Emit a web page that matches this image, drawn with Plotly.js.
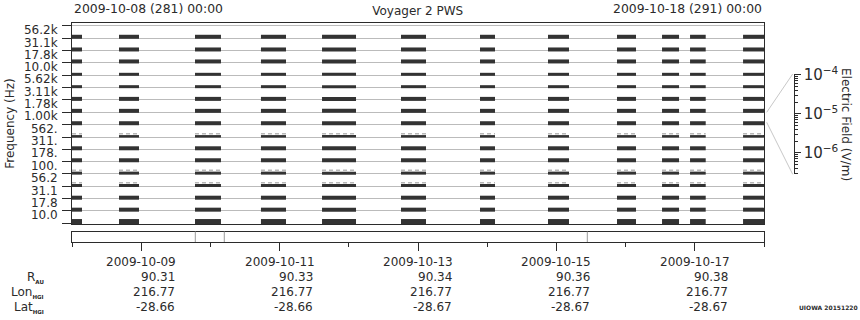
<!DOCTYPE html>
<html>
<head>
<meta charset="utf-8">
<script src="https://cdn.plot.ly/plotly-3.0.1.min.js"></script>
<style>
  html, body { margin: 0; padding: 0; background: #fff; }
  #chart { width: 860px; height: 320px; }
</style>
</head>
<body>
<div id="chart"></div>
<script>
// ---- data ----
const channelLabels = ['56.2k','31.1k','17.8k','10.0k','5.62k','3.11k','1.78k','1.00k','562.','311.','178.','100.','56.2','31.1','17.8','10.0'];
const channelFreqs  = [56200, 31100, 17800, 10000, 5620, 3110, 1780, 1000, 562, 311, 178, 100, 56.2, 31.1, 17.8, 10.0];

// intervals with data (every channel present)
const segStart = ['2009-10-08 00:00','2009-10-08 16:18','2009-10-09 18:39','2009-10-10 17:32','2009-10-11 14:43','2009-10-12 18:06',
                  '2009-10-13 21:30','2009-10-14 21:05','2009-10-15 21:01','2009-10-16 12:38','2009-10-16 22:21','2009-10-17 16:44'];
const segEnd   = ['2009-10-08 03:28','2009-10-08 23:14','2009-10-10 03:40','2009-10-11 02:13','2009-10-12 02:30','2009-10-13 02:47',
                  '2009-10-14 02:42','2009-10-15 04:22','2009-10-16 03:36','2009-10-16 18:32','2009-10-17 03:47','2009-10-18 00:00'];

// channels showing faint (weak) signal above the bars
const faintChannels = ['562.','100.','56.2'];

// marks in the lower strip
const stripMarks = ['2009-10-09 18:46','2009-10-10 04:49','2009-10-15 10:43'];

// ephemeris rows under the axis
const tickDates = ['2009-10-09','2009-10-11','2009-10-13','2009-10-15','2009-10-17'];
const rAU    = ['90.31','90.33','90.34','90.36','90.38'];
const lonHGI = ['216.77','216.77','216.77','216.77','216.77'];
const latHGI = ['-28.66','-28.66','-28.67','-28.67','-28.67'];
const rowNames = ['R', 'Lon', 'Lat'];
const rowSubs  = ['AU', 'HGI', 'HGI'];

const timeRange = ['2009-10-08 00:00','2009-10-18 00:00'];
const startLabel = '2009-10-08 (281) 00:00';
const endLabel   = '2009-10-18 (291) 00:00';

// ---- styling / geometry ----
const FONT = 'DejaVu Sans, Verdana, sans-serif';
const INK = '#2b2b2b';
const BAR = '#333333';
const PX_PER_DECADE = 49.34;
const binDecades = 0.25;
const W = 778;                       // paper width in px (860 - l - r)
const H = 219;                       // paper height in px
const px2x = px => (px - 72) / W;
const px2y = py => (242 - py) / H;

const barWidthFor = i => (i === 8 ? 2.5 : (i === 3 || i === 4 || i === 11 || i === 12) ? 3 : i === 15 ? 5 : 4);

const traces = [];
channelFreqs.forEach((f, i) => {
  const w = barWidthFor(i);
  const lift = (w / 2 - 0.7) / PX_PER_DECADE;
  const y = f * Math.pow(10, -binDecades + lift);
  const xs = [], ys = [];
  segStart.forEach((s, k) => { xs.push(s, segEnd[k], null); ys.push(y, y, null); });
  traces.push({
    type: 'scatter', mode: 'lines', x: xs, y: ys, xaxis: 'x', yaxis: 'y',
    line: { color: BAR, width: w }, hoverinfo: 'skip', showlegend: false, name: channelLabels[i]
  });
  if (faintChannels.includes(channelLabels[i])) {
    const yf = f * Math.pow(10, -binDecades + (w + 0.6) / PX_PER_DECADE);
    traces.push({
      type: 'scatter', mode: 'lines', x: xs, y: xs.map(v => v === null ? null : yf), xaxis: 'x', yaxis: 'y',
      line: { color: '#b8b8b8', width: 1.5, dash: '4px,3px' }, hoverinfo: 'skip', showlegend: false
    });
  }
});
// invisible anchor for the field-strength scale axis
traces.push({ type: 'scatter', mode: 'markers', x: [0], y: [1e-5], xaxis: 'x3', yaxis: 'y3',
  marker: { opacity: 0 }, hoverinfo: 'skip', showlegend: false });

const tickVals = channelFreqs.concat([channelFreqs[channelFreqs.length-1] / Math.pow(10, binDecades)]);
const tickText = channelLabels.concat(['']);

const topLog = Math.log10(channelFreqs[0]) + 0.055;
const botLog = topLog - 4.068;

const rowY = [261.7, 277.3, 292.3, 307].map(px2y);
const annotations = [];
tickDates.forEach((d, k) => {
  annotations.push({ xref: 'x2', yref: 'paper', x: d, y: rowY[0], xanchor: 'center', yanchor: 'middle',
    showarrow: false, text: d, font: { family: FONT, size: 12, color: INK } });
  [rAU[k], lonHGI[k], latHGI[k]].forEach((v, r) => {
    annotations.push({ xref: 'x2', yref: 'paper', x: d, xshift: 35.5, y: rowY[r + 1], xanchor: 'right', yanchor: 'middle',
      showarrow: false, text: v, font: { family: FONT, size: 12, color: INK } });
  });
});
rowNames.forEach((n, r) => {
  annotations.push({ xref: 'paper', yref: 'paper', x: px2x(45), y: rowY[r + 1], xanchor: 'right', yanchor: 'middle',
    showarrow: false, borderpad: 0,
    text: n + '<sub><span style="font-size:5.5px;font-weight:bold">' + rowSubs[r] + '</span></sub>',
    font: { family: FONT, size: 12, color: INK } });
});
annotations.push({ xref: 'paper', yref: 'paper', x: 0, y: px2y(8.3), xanchor: 'left', yanchor: 'middle',
  showarrow: false, text: startLabel, font: { family: FONT, size: 12.4, color: INK } });
annotations.push({ xref: 'paper', yref: 'paper', x: px2x(764), y: px2y(8.3), xanchor: 'right', yanchor: 'middle',
  showarrow: false, text: endLabel, font: { family: FONT, size: 12.4, color: INK } });
annotations.push({ xref: 'paper', yref: 'paper', x: px2x(846), y: px2y(124), xanchor: 'center', yanchor: 'middle',
  textangle: 90, showarrow: false, text: 'Electric Field (V/m)', font: { family: FONT, size: 12, color: INK } });
annotations.push({ xref: 'paper', yref: 'paper', x: px2x(860), y: px2y(307.3), xanchor: 'right', yanchor: 'middle',
  showarrow: false, text: '<b>UIOWA 20151220</b>', font: { family: FONT, size: 6, color: INK } });

const shapes = [];
stripMarks.forEach(t => shapes.push({ type: 'line', xref: 'x2', yref: 'y2 domain', x0: t, x1: t, y0: 0, y1: 1,
  line: { color: '#999999', width: 1 } }));
shapes.push({ type: 'line', xref: 'paper', yref: 'paper', x0: px2x(766.7), y0: px2y(112.3), x1: px2x(792.7), y1: px2y(74),
  line: { color: '#c8c8c8', width: 1 } });
shapes.push({ type: 'line', xref: 'paper', yref: 'paper', x0: px2x(766.7), y0: px2y(122.3), x1: px2x(792.7), y1: px2y(174.3),
  line: { color: '#c8c8c8', width: 1 } });

const layout = {
  width: 860, height: 320,
  margin: { l: 72, r: 10, t: 23, b: 78, pad: 0 },
  paper_bgcolor: '#ffffff', plot_bgcolor: 'rgba(0,0,0,0)',
  font: { family: FONT, size: 12, color: INK },
  title: { text: 'Voyager 2 PWS', x: 417.7 / 860, xanchor: 'center', y: 1 - 10.8 / 320, yanchor: 'middle',
           font: { family: FONT, size: 12, color: INK } },
  showlegend: false,
  xaxis: { type: 'date', range: timeRange, domain: [0, px2x(764)], anchor: 'y',
           showline: true, mirror: true, linecolor: INK, linewidth: 1,
           showgrid: false, showticklabels: false, ticks: '', zeroline: false },
  yaxis: { type: 'log', range: [botLog, topLog], domain: [px2y(224), 1], anchor: 'x',
           tickmode: 'array', tickvals: tickVals, ticktext: tickText,
           ticks: 'outside', ticklen: 9, tickcolor: INK, tickwidth: 1,
           ticklabelshift: 4, ticklabelstandoff: 2,
           showline: true, mirror: true, linecolor: INK, linewidth: 1,
           showgrid: true, gridcolor: '#bbbbbb', gridwidth: 1, zeroline: false,
           tickfont: { family: FONT, size: 12, color: INK },
           title: { text: 'Frequency (Hz)', standoff: 6, font: { family: FONT, size: 12, color: INK } } },
  xaxis2: { type: 'date', matches: 'x', domain: [0, px2x(764)], anchor: 'y2',
            showline: true, mirror: true, linecolor: INK, linewidth: 1,
            showgrid: false, showticklabels: false, zeroline: false,
            tick0: '2009-10-09', dtick: 2 * 86400000, ticks: 'outside', ticklen: 8, tickcolor: INK,
            minor: { dtick: 86400000, tick0: '2009-10-08', ticks: 'outside', ticklen: 4, tickcolor: INK, showgrid: false } },
  yaxis2: { domain: [0, px2y(231.5)], range: [0, 1], anchor: 'x2', showline: true, mirror: true, linecolor: INK,
            linewidth: 1, showgrid: false, showticklabels: false, ticks: '', zeroline: false, fixedrange: true },
  xaxis3: { domain: [px2x(770), px2x(794)], anchor: 'y3', visible: false, range: [-1, 1] },
  yaxis3: { type: 'log', range: [-6.55, -3.98], domain: [px2y(174.3), px2y(74)], anchor: 'free', position: px2x(794.3),
            side: 'right', showline: true, linecolor: INK, linewidth: 1, showgrid: false, zeroline: false,
            dtick: 1, exponentformat: 'power', ticks: 'outside', ticklen: 6, tickcolor: INK,
            tickfont: { family: FONT, size: 12, color: INK },
            minor: { dtick: 'D1', ticks: 'outside', ticklen: 3, tickcolor: INK, showgrid: false } },
  annotations: annotations,
  shapes: shapes
};

Plotly.newPlot('chart', traces, layout, { staticPlot: true, displayModeBar: false });
</script>
</body>
</html>
